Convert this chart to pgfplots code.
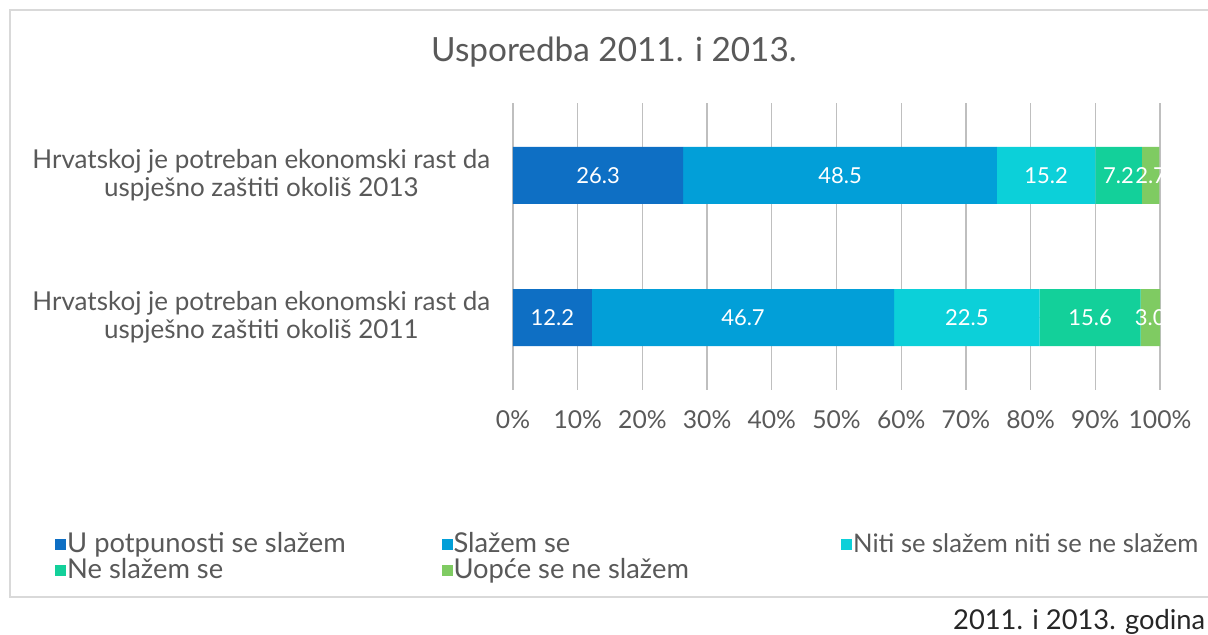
\documentclass[border=0pt]{standalone}
\usepackage{pgfplots}
\pgfplotsset{compat=1.18}
\usepackage{fontspec}
\setmainfont{Lato}
\definecolor{cA}{HTML}{0E6FC4}
\definecolor{cB}{HTML}{029FD8}
\definecolor{cC}{HTML}{0CD0D9}
\definecolor{cD}{HTML}{13D09A}
\definecolor{cE}{HTML}{7FCB62}
\definecolor{txt}{HTML}{595959}
\definecolor{grid}{HTML}{D9D9D9}
\begin{document}
\begin{tikzpicture}[x=0.75pt,y=0.75pt]
\useasboundingbox (0,0) rectangle (1208,635);
\fill[white] (0,0) rectangle (1208,635);
\draw[grid, line width=0.9pt] (10,38) rectangle (1220,625);
\node[txt, font=\fontsize{25}{30}\selectfont] at (614,583) {Usporedba 2011. i 2013.};
\node[black!85, font=\fontsize{20.5}{24}\selectfont, anchor=east] at (1210,13.5) {2011. i 2013. godina};
\begin{axis}[
  at={(384.75pt,183.75pt)}, anchor=south west,
  scale only axis, width=485.25pt, height=215.25pt,
  xbar stacked, bar width=42.75pt,
  xmin=0, xmax=100, ymin=-0.51, ymax=1.51,
  axis line style={draw=none},
  xmajorgrids, grid style={grid, line width=0.9pt},
  major tick length=0pt,
  xtick={0,10,...,100},
  xticklabel={\pgfmathprintnumber{\tick}\%},
  /pgf/number format/assume math mode=true,
  xticklabel style={txt, font=\fontsize{18.5}{22}\selectfont, yshift=-12pt},
  ytick={0,1},
  yticklabels={{Hrvatskoj je potreban ekonomski rast da\\uspješno zaštiti okoliš 2011},{Hrvatskoj je potreban ekonomski rast da\\uspješno zaštiti okoliš 2013}},
  yticklabel style={txt, align=center, font=\fontsize{19.5}{21}\selectfont, xshift=-13.5pt},
  nodes near coords,
  point meta=explicit symbolic,
  every node near coord/.append style={white, font=\fontsize{16.5}{20}\selectfont},
  legend columns=3,
  legend cell align=left,
  legend style={at={(-0.708,-0.5005)}, anchor=north west, draw=none, fill=none,
    inner sep=0pt, column sep=0pt, row sep=0pt,
    font=\fontsize{20.5}{24}\selectfont, text=txt,
    nodes={inner sep=0.75pt, text height=13pt, text depth=5pt}},
  legend image code/.code={\fill[#1] (0pt,-2.5pt) rectangle (8.25pt,5.75pt);},
]
\addplot[fill=cA, draw=none] coordinates {(12.2,0)[12.2] (26.3,1)[26.3]};
\addplot[fill=cB, draw=none] coordinates {(46.7,0)[46.7] (48.5,1)[48.5]};
\addplot[fill=cC, draw=none] coordinates {(22.5,0)[22.5] (15.2,1)[15.2]};
\addplot[fill=cD, draw=none] coordinates {(15.6,0)[15.6] (7.2,1)[7.2]};
\addplot[fill=cE, draw=none] coordinates {(3.0,0)[3.0] (2.7,1)[2.7]};
\addlegendentry{\makebox[280pt][l]{U potpunosti se slažem}}
\addlegendentry{\makebox[290pt][l]{Slažem se}}
\addlegendentry{\fontsize{19.2}{24}\selectfont Niti se slažem niti se ne slažem}
\addlegendentry{\makebox[280pt][l]{Ne slažem se}}
\addlegendentry{\makebox[290pt][l]{Uopće se ne slažem}}
\end{axis}
\end{tikzpicture}
\end{document}
